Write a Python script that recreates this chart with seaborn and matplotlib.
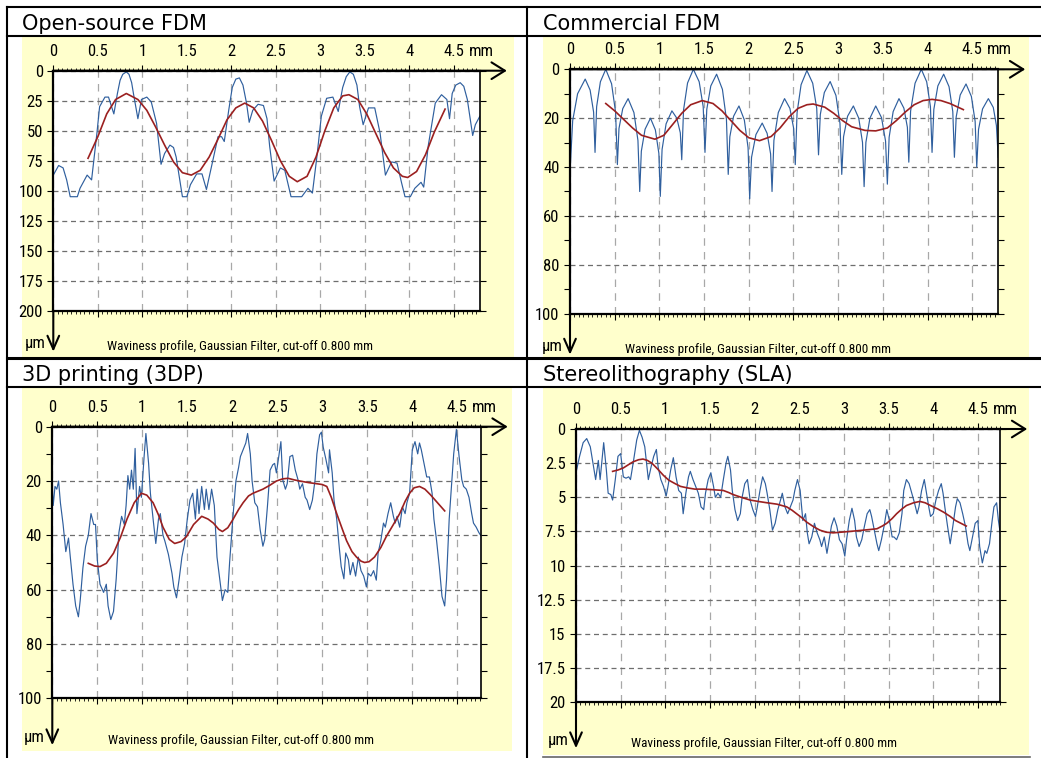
import pandas as pd
import seaborn as sns
import matplotlib.pyplot as plt
from matplotlib.patches import Rectangle
from matplotlib.lines import Line2D
from matplotlib.ticker import FixedLocator, MultipleLocator, FuncFormatter

plt.rcParams['font.family'] = ['Liberation Sans Narrow', 'Arial Narrow', 'Roboto Condensed',
                               'Archivo Narrow', 'Liberation Sans', 'DejaVu Sans']

# === Data (x in mm, depth in um) ===
titles = ["Open-source FDM", "Commercial FDM", "3D printing (3DP)", "Stereolithography (SLA)"]
caption = "Waviness profile, Gaussian Filter, cut-off 0.800 mm"
x_ticks = [0, 0.5, 1, 1.5, 2, 2.5, 3, 3.5, 4, 4.5]
y_ticks_os = [0, 25, 50, 75, 100, 125, 150, 175, 200]
y_ticks_com = [0, 20, 40, 60, 80, 100]
y_ticks_3dp = [0, 20, 40, 60, 80, 100]
y_ticks_sla = [0, 2.5, 5, 7.5, 10, 12.5, 15, 17.5, 20]

os_profile = [
    (0.00, 87), (0.06, 79), (0.11, 81), (0.15, 91), (0.19, 105), (0.27, 105), (0.30, 98),
    (0.38, 87), (0.43, 91), (0.49, 52), (0.52, 30), (0.58, 22), (0.62, 22), (0.68, 36),
    (0.72, 19), (0.75, 8), (0.78, 3), (0.82, 1), (0.85, 3), (0.88, 10), (0.90, 19),
    (0.95, 40), (0.99, 24), (1.05, 22), (1.10, 26), (1.16, 44), (1.21, 78), (1.25, 69),
    (1.31, 62), (1.35, 64), (1.38, 72), (1.45, 105), (1.50, 105), (1.54, 95), (1.61, 86),
    (1.67, 86), (1.72, 99), (1.80, 72), (1.85, 55), (1.89, 55), (1.92, 59), (1.97, 33),
    (2.01, 14), (2.05, 7), (2.09, 6), (2.13, 12), (2.17, 27), (2.20, 43), (2.24, 33),
    (2.30, 28), (2.36, 29), (2.40, 40), (2.43, 63), (2.48, 92), (2.55, 81), (2.60, 83),
    (2.67, 105), (2.79, 105), (2.86, 98), (2.91, 102), (2.96, 72), (3.01, 38), (3.07, 23),
    (3.14, 22), (3.20, 34), (3.25, 14), (3.29, 5), (3.33, 1), (3.37, 3), (3.41, 12),
    (3.44, 30), (3.48, 45), (3.54, 31), (3.61, 31), (3.67, 52), (3.73, 87), (3.80, 76),
    (3.86, 77), (3.91, 93), (3.95, 105), (4.01, 105), (4.06, 98), (4.13, 93), (4.16, 97),
    (4.21, 63), (4.29, 27), (4.36, 20), (4.42, 24), (4.45, 40), (4.48, 19), (4.52, 12),
    (4.57, 10), (4.61, 13), (4.65, 24), (4.71, 54), (4.74, 45), (4.79, 38),
]
os_wave = [
    (0.39, 73), (0.50, 55), (0.60, 36), (0.70, 24), (0.82, 19), (0.95, 24), (1.05, 33),
    (1.15, 47), (1.25, 62), (1.35, 76), (1.45, 85), (1.55, 87), (1.65, 83), (1.75, 72),
    (1.85, 57), (1.95, 41), (2.05, 31), (2.15, 27), (2.25, 31), (2.35, 42), (2.45, 58),
    (2.55, 75), (2.65, 88), (2.74, 92.5), (2.85, 88), (2.95, 72), (3.05, 50), (3.15, 31),
    (3.25, 21), (3.32, 20), (3.42, 24), (3.52, 36), (3.62, 52), (3.72, 68), (3.82, 81),
    (3.92, 88), (3.98, 89), (4.08, 84), (4.18, 70), (4.28, 51), (4.40, 32),
]

com_profile = [
    (0.00, 42), (0.03, 21), (0.085, 10), (0.17, 4), (0.225, 8.5), (0.264, 17.5), (0.28, 34),
    (0.298, 15.3), (0.34, 5.1), (0.40, 0), (0.465, 5.9), (0.51, 17.6), (0.53, 39),
    (0.548, 24.2), (0.59, 16.1), (0.65, 12), (0.715, 17.7), (0.76, 29.1), (0.78, 50),
    (0.798, 33.5), (0.84, 24.5), (0.90, 20), (0.955, 24.8), (0.994, 34.4), (1.01, 52),
    (1.03, 32.8), (1.075, 22.3), (1.14, 17), (1.195, 20), (1.234, 26), (1.25, 37),
    (1.27, 16.7), (1.315, 5.6), (1.38, 0), (1.445, 5.1), (1.49, 15.3), (1.51, 34),
    (1.53, 16.4), (1.575, 6.8), (1.64, 2), (1.705, 8.2), (1.75, 20.5), (1.77, 43),
    (1.788, 27.6), (1.83, 19.2), (1.89, 15), (1.95, 20.7), (1.992, 32.1), (2.01, 53),
    (2.031, 36), (2.08, 26.7), (2.15, 22), (2.205, 26.2), (2.244, 34.6), (2.26, 50),
    (2.281, 29.1), (2.33, 17.7), (2.40, 12), (2.46, 16), (2.502, 24.2), (2.52, 39),
    (2.54, 17.8), (2.585, 6.3), (2.65, 0.5), (2.715, 5.7), (2.76, 16), (2.78, 35),
    (2.80, 18.5), (2.845, 9.5), (2.91, 5), (2.975, 10.7), (3.02, 22.1), (3.04, 43),
    (3.06, 27.6), (3.105, 19.2), (3.17, 15), (3.23, 20), (3.272, 29.9), (3.29, 48),
    (3.31, 29.9), (3.355, 20), (3.42, 15), (3.485, 19.8), (3.53, 29.4), (3.55, 47),
    (3.57, 27.8), (3.615, 17.3), (3.68, 12), (3.735, 15.9), (3.774, 23.7), (3.79, 38),
    (3.81, 17.1), (3.86, 5.7), (3.93, 0), (3.99, 5.1), (4.032, 15.3), (4.05, 34),
    (4.07, 16.4), (4.115, 6.8), (4.18, 2), (4.24, 7.1), (4.282, 17.3), (4.30, 36),
    (4.32, 19.5), (4.365, 10.5), (4.43, 6), (4.49, 11.1), (4.532, 21.3), (4.55, 40),
    (4.57, 24.6), (4.615, 16.2), (4.68, 12), (4.735, 15.6), (4.77, 23), (4.79, 36),
]
com_wave = [
    (0.40, 14), (0.50, 17), (0.60, 20.5), (0.70, 24), (0.80, 27), (0.95, 28.6), (1.05, 27),
    (1.15, 22.5), (1.25, 18), (1.35, 14.5), (1.48, 12.8), (1.60, 14), (1.70, 17), (1.80, 21),
    (1.90, 25), (2.00, 28), (2.12, 29.2), (2.25, 27.5), (2.35, 24), (2.45, 19.5), (2.55, 16),
    (2.65, 14.5), (2.72, 14.2), (2.85, 15.5), (2.95, 18), (3.05, 21), (3.15, 23.5),
    (3.30, 25), (3.42, 25.2), (3.55, 24), (3.65, 21), (3.75, 17.5), (3.85, 14.5),
    (3.95, 12.8), (4.05, 12.3), (4.15, 12.8), (4.25, 14), (4.40, 16.5),
]

p3d_profile = [
    (0.00, 22), (0.01, 29), (0.03, 22), (0.05, 23), (0.07, 20), (0.09, 28), (0.12, 36),
    (0.15, 46), (0.18, 41), (0.20, 48), (0.23, 58), (0.26, 66), (0.29, 70), (0.31, 64),
    (0.34, 52), (0.37, 44), (0.40, 40), (0.43, 32), (0.46, 36), (0.48, 36), (0.50, 49),
    (0.53, 58), (0.57, 61), (0.60, 58), (0.62, 66), (0.65, 71), (0.68, 68), (0.71, 56),
    (0.74, 39), (0.77, 33), (0.80, 36), (0.82, 29), (0.84, 18), (0.86, 23), (0.88, 16),
    (0.90, 23), (0.92, 8), (0.94, 32), (0.97, 22), (0.99, 26), (1.02, 11), (1.04, 2.5),
    (1.07, 13.5), (1.09, 24.5), (1.12, 34), (1.15, 43), (1.18, 34), (1.20, 32), (1.23, 40),
    (1.25, 42), (1.29, 47), (1.33, 54), (1.35, 59), (1.38, 63), (1.41, 56), (1.44, 48),
    (1.47, 43), (1.50, 34), (1.53, 27), (1.56, 24.5), (1.59, 34), (1.61, 23), (1.63, 32),
    (1.66, 22), (1.69, 30.5), (1.71, 23), (1.74, 30.5), (1.77, 23), (1.80, 29), (1.83, 48),
    (1.86, 56), (1.89, 64), (1.92, 60), (1.95, 61), (1.97, 50), (2.01, 32), (2.04, 20),
    (2.07, 15), (2.09, 11), (2.12, 8.5), (2.15, 6), (2.17, 2.5), (2.20, 10), (2.22, 20),
    (2.25, 28), (2.28, 29.5), (2.31, 38), (2.34, 44), (2.36, 41.5), (2.39, 29.5), (2.42, 16),
    (2.45, 14), (2.47, 13.5), (2.49, 17), (2.52, 10), (2.54, 5.5), (2.56, 19.5), (2.59, 23),
    (2.61, 21), (2.64, 11), (2.67, 10.5), (2.70, 16), (2.73, 19.5), (2.75, 23), (2.78, 21),
    (2.81, 26), (2.83, 27), (2.86, 30.5), (2.89, 27), (2.92, 19.5), (2.94, 10), (2.97, 3),
    (2.99, 2), (3.01, 7.5), (3.04, 12), (3.07, 17), (3.08, 8.5), (3.11, 17), (3.13, 27),
    (3.16, 34), (3.19, 45), (3.21, 51.5), (3.24, 56), (3.26, 46.5), (3.29, 49), (3.31, 54.5),
    (3.34, 50), (3.37, 55), (3.40, 48), (3.43, 53), (3.46, 55), (3.49, 59), (3.51, 54),
    (3.54, 55), (3.57, 53), (3.60, 56.5), (3.62, 46.5), (3.65, 42), (3.68, 35.5), (3.70, 37),
    (3.73, 32), (3.76, 28), (3.79, 33), (3.81, 35.5), (3.83, 33), (3.86, 37), (3.89, 29.5),
    (3.92, 32), (3.94, 28), (3.97, 24.5), (4.00, 8.5), (4.03, 5.5), (4.06, 10), (4.08, 6),
    (4.10, 8.5), (4.13, 13.5), (4.16, 18.5), (4.19, 18.5), (4.22, 24.5), (4.24, 34),
    (4.27, 42), (4.30, 51.5), (4.33, 62.5), (4.36, 66), (4.38, 56.5), (4.41, 34),
    (4.44, 19.5), (4.46, 10), (4.49, 1), (4.52, 11), (4.55, 19.5), (4.57, 22), (4.60, 23),
    (4.63, 26), (4.66, 32), (4.68, 35.5), (4.71, 37), (4.74, 39), (4.76, 40),
]
p3d_wave = [
    (0.40, 50.3), (0.47, 51.3), (0.53, 51.5), (0.60, 50.3), (0.68, 46.6), (0.76, 40.5),
    (0.83, 34), (0.91, 28), (0.99, 24.5), (1.05, 25.2), (1.12, 28), (1.18, 32.5), (1.23, 37),
    (1.30, 41.5), (1.36, 43), (1.43, 42.3), (1.49, 40.5), (1.57, 36), (1.66, 33), (1.73, 34),
    (1.79, 35.5), (1.85, 37.8), (1.89, 38.6), (1.95, 37.2), (2.01, 34), (2.07, 30.5),
    (2.12, 28), (2.18, 25.5), (2.23, 24.5), (2.34, 23), (2.42, 21.5), (2.49, 20), (2.56, 19.2),
    (2.62, 19), (2.69, 19.6), (2.75, 20), (2.85, 20.6), (2.94, 21), (3.00, 21.3), (3.05, 22),
    (3.10, 26), (3.16, 32), (3.22, 37.5), (3.27, 42), (3.33, 46), (3.38, 48), (3.43, 49.5),
    (3.47, 50), (3.52, 49.7), (3.58, 48), (3.65, 44.5), (3.71, 40.5), (3.79, 36), (3.86, 32),
    (3.92, 27.5), (3.97, 24.5), (4.02, 22.5), (4.08, 22), (4.14, 23), (4.20, 25), (4.28, 28),
    (4.36, 31),
]

sla_profile = [
    (0.00, 3.2), (0.04, 2.0), (0.08, 1.0), (0.12, 0.7), (0.16, 1.3), (0.19, 2.5), (0.22, 3.7),
    (0.25, 2.3), (0.27, 3.7), (0.31, 1.0), (0.34, 3.0), (0.36, 4.7), (0.39, 4.8), (0.41, 5.2),
    (0.44, 3.7), (0.47, 2.0), (0.50, 1.8), (0.53, 3.5), (0.56, 3.6), (0.59, 3.5), (0.61, 3.7),
    (0.64, 2.5), (0.68, 0.8), (0.71, 0.1), (0.74, 0.6), (0.77, 1.3), (0.81, 3.7), (0.84, 2.8),
    (0.87, 2.0), (0.90, 1.5), (0.92, 2.8), (0.95, 3.7), (0.98, 4.2), (1.01, 4.9), (1.03, 4.2),
    (1.06, 3.0), (1.09, 2.1), (1.12, 3.5), (1.15, 4.5), (1.18, 4.7), (1.20, 6.2), (1.23, 4.7),
    (1.26, 3.5), (1.28, 3.1), (1.31, 3.7), (1.34, 4.2), (1.37, 4.7), (1.40, 5.7), (1.43, 5.9),
    (1.45, 4.7), (1.48, 3.7), (1.51, 3.2), (1.54, 4.2), (1.56, 5.0), (1.59, 4.7), (1.62, 5.0),
    (1.65, 3.7), (1.68, 2.5), (1.70, 2.0), (1.73, 3.0), (1.75, 4.5), (1.78, 5.9), (1.81, 6.7),
    (1.84, 6.2), (1.86, 5.0), (1.89, 4.0), (1.92, 3.7), (1.95, 5.2), (1.98, 5.9), (2.01, 6.4),
    (2.03, 5.7), (2.06, 4.5), (2.09, 3.5), (2.12, 4.0), (2.14, 4.7), (2.17, 5.9), (2.20, 7.4),
    (2.23, 6.9), (2.26, 5.9), (2.29, 5.2), (2.31, 4.7), (2.34, 5.7), (2.37, 6.2), (2.40, 5.7),
    (2.43, 5.2), (2.45, 4.5), (2.48, 3.7), (2.51, 4.5), (2.54, 6.7), (2.57, 6.2), (2.59, 7.6),
    (2.61, 8.4), (2.64, 7.9), (2.67, 6.9), (2.70, 7.6), (2.73, 8.1), (2.75, 8.6), (2.78, 7.9),
    (2.81, 9.1), (2.84, 7.9), (2.86, 7.1), (2.89, 6.5), (2.92, 7.1), (2.95, 8.1), (2.98, 8.4),
    (3.01, 9.3), (3.03, 8.1), (3.06, 6.7), (3.09, 5.8), (3.12, 6.7), (3.14, 7.9), (3.17, 8.6),
    (3.20, 8.1), (3.23, 7.1), (3.26, 6.2), (3.29, 5.9), (3.31, 6.4), (3.34, 7.4), (3.37, 8.4),
    (3.39, 8.9), (3.42, 8.1), (3.45, 7.1), (3.48, 5.9), (3.51, 6.7), (3.54, 7.9), (3.56, 7.9),
    (3.59, 8.1), (3.62, 7.6), (3.65, 6.2), (3.67, 4.5), (3.70, 3.7), (3.73, 4.0), (3.76, 4.7),
    (3.79, 5.4), (3.82, 6.2), (3.84, 5.7), (3.87, 4.5), (3.90, 3.7), (3.92, 4.5), (3.95, 5.7),
    (3.97, 6.4), (4.00, 6.2), (4.03, 5.2), (4.06, 4.5), (4.09, 4.0), (4.11, 4.7), (4.13, 5.7),
    (4.16, 7.1), (4.19, 8.4), (4.22, 7.1), (4.25, 5.7), (4.27, 5.1), (4.30, 5.4), (4.33, 6.2),
    (4.36, 7.1), (4.39, 8.4), (4.41, 8.9), (4.44, 7.9), (4.47, 6.9), (4.50, 6.7), (4.52, 8.6),
    (4.55, 9.8), (4.58, 8.9), (4.60, 9.1), (4.63, 8.4), (4.66, 6.7), (4.68, 5.7), (4.71, 5.4),
    (4.73, 6.7), (4.75, 7.6),
]
sla_wave = [
    (0.41, 3.1), (0.47, 3.0), (0.53, 2.85), (0.59, 2.6), (0.64, 2.4), (0.70, 2.25), (0.75, 2.2),
    (0.80, 2.3), (0.85, 2.5), (0.91, 2.9), (0.98, 3.4), (1.04, 3.75), (1.11, 4.0), (1.17, 4.2),
    (1.24, 4.3), (1.33, 4.4), (1.43, 4.4), (1.55, 4.45), (1.65, 4.5), (1.71, 4.65), (1.76, 4.8),
    (1.85, 5.0), (1.95, 5.2), (2.04, 5.3), (2.14, 5.4), (2.25, 5.5), (2.36, 5.7), (2.42, 5.95),
    (2.47, 6.2), (2.53, 6.5), (2.58, 6.8), (2.66, 7.15), (2.73, 7.4), (2.80, 7.55), (2.88, 7.6),
    (2.97, 7.55), (3.06, 7.5), (3.14, 7.45), (3.22, 7.4), (3.30, 7.35), (3.37, 7.3),
    (3.43, 7.1), (3.48, 6.9), (3.54, 6.55), (3.59, 6.2), (3.65, 5.85), (3.70, 5.6),
    (3.78, 5.4), (3.85, 5.3), (3.91, 5.4), (3.97, 5.6), (4.05, 5.85), (4.12, 6.1),
    (4.19, 6.4), (4.25, 6.7), (4.31, 6.9), (4.37, 7.1),
]

# === Layout (pixels of the 1041x758 page) ===
W, H = 1041, 758
YELLOW = "#ffffcc"
BLUE = "#2f5f9e"
RED = "#9b2020"

fig = plt.figure(figsize=(W / 100, H / 100), dpi=100)


def fig_line(xs, ys, lw=1.5, color="black"):
    fig.add_artist(Line2D([x / W for x in xs], [1 - y / H for y in ys], color=color, lw=lw))


# table grid
fig_line([7, W], [7, 7])
fig_line([7, W], [36, 36])
fig_line([7, W], [358, 358], lw=2.2)
fig_line([7, W], [387, 387])
fig_line([7, 7], [7, H])
fig_line([527, 527], [7, H])
fig_line([543, 1030], [757, 757], lw=1.2, color="#666666")

panels = [
    # title pos, yellow box, axes box (l, t, r, b), xmax, arrow length below
    dict(title=(22, 30), bg=(22, 37, 514, 357), ax=(53.3, 70.7, 479.8, 310.7), xmax=4.79, drop=41,
         profile=os_profile, wave=os_wave, yt=y_ticks_os, ymin=None),
    dict(title=(543, 30), bg=(543, 37, 1029, 357), ax=(570, 69.3, 998.2, 313.7), xmax=4.79, drop=41,
         profile=com_profile, wave=com_wave, yt=y_ticks_com, ymin=10),
    dict(title=(22, 381), bg=(22, 388, 512, 751), ax=(52.3, 426.7, 480.7, 698.3), xmax=4.76, drop=47,
         profile=p3d_profile, wave=p3d_wave, yt=y_ticks_3dp, ymin=10),
    dict(title=(543, 381), bg=(543, 388, 1029, 755), ax=(576, 429, 1000.2, 702.3), xmax=4.75, drop=46,
         profile=sla_profile, wave=sla_wave, yt=y_ticks_sla, ymin=2.5),
]

for title, p in zip(titles, panels):
    fig.text(p["title"][0] / W, 1 - p["title"][1] / H, title, family="DejaVu Sans",
             fontsize=15, va="baseline", ha="left")
    x0, y0, x1, y1 = p["bg"]
    fig.add_artist(Rectangle((x0 / W, 1 - y1 / H), (x1 - x0) / W, (y1 - y0) / H,
                             transform=fig.transFigure, facecolor=YELLOW, edgecolor="none", zorder=-5))

    l, t, r, b = p["ax"]
    ax = fig.add_axes([l / W, 1 - b / H, (r - l) / W, (b - t) / H])
    ax.set_facecolor("white")

    prof = pd.DataFrame(p["profile"], columns=["x", "y"])
    wav = pd.DataFrame(p["wave"], columns=["x", "y"])
    sns.lineplot(data=prof, x="x", y="y", ax=ax, color=BLUE, lw=0.85, sort=False, estimator=None)
    sns.lineplot(data=wav, x="x", y="y", ax=ax, color=RED, lw=1.2, sort=False, estimator=None)

    ax.set_xlim(0, p["xmax"])
    ax.set_ylim(p["yt"][-1], 0)
    ax.set(xlabel="", ylabel="")

    # ticks: labels on top, marks on all four sides
    ax.xaxis.set_major_locator(FixedLocator(x_ticks))
    ax.xaxis.set_minor_locator(MultipleLocator(0.05))
    ax.xaxis.set_major_formatter(FuncFormatter(lambda v, pos: f"{v:g}"))
    ax.yaxis.set_major_locator(FixedLocator(p["yt"]))
    if p["ymin"]:
        ax.yaxis.set_minor_locator(MultipleLocator(p["ymin"]))
    ax.yaxis.set_major_formatter(FuncFormatter(lambda v, pos: f"{v:g}"))
    ax.tick_params(axis="x", which="both", top=True, bottom=True, labeltop=True,
                   labelbottom=False, direction="out")
    ax.tick_params(axis="x", which="major", length=4.5, width=0.8, pad=4, labelsize=12)
    ax.tick_params(axis="x", which="minor", length=2.5, width=0.6)
    ax.tick_params(axis="y", which="both", left=True, right=True, direction="out",
                   length=4.5, width=0.8)
    ax.tick_params(axis="y", which="major", pad=3, labelsize=12)

    ax.set_axisbelow(True)
    ax.grid(axis="x", which="major", color="#a8a8a8", ls=(0, (6, 5)), lw=0.9)
    ax.grid(axis="y", which="major", color="#6e6e6e", ls=(0, (4, 3)), lw=0.9)

    for side in ["left", "top", "bottom"]:
        ax.spines[side].set_linewidth(1.6)
    ax.spines["right"].set_linewidth(1.2)
    for s in ax.spines.values():
        s.set_color("black")

    # axis arrows
    w_px, h_px = r - l, b - t
    ax.annotate("", xy=(1 + 27 / w_px, 1), xytext=(0, 1), xycoords="axes fraction",
                arrowprops=dict(arrowstyle="->,head_length=0.8,head_width=0.5", lw=1.5,
                                color="black", shrinkA=0, shrinkB=0, mutation_scale=12),
                annotation_clip=False)
    ax.annotate("", xy=(0, -p["drop"] / h_px), xytext=(0, 0), xycoords="axes fraction",
                arrowprops=dict(arrowstyle="->,head_length=0.8,head_width=0.35", lw=1.5,
                                color="black", shrinkA=0, shrinkB=0, mutation_scale=12),
                annotation_clip=False)

    ax.annotate("mm", xy=(4.5, 1), xycoords=("data", "axes fraction"), xytext=(10.5, 8.5),
                textcoords="offset points", ha="left", va="bottom", fontsize=12)
    fig.text((l - 18) / W, 1 - (b + p["drop"] - 8) / H, "µm", ha="center", va="center", fontsize=12)
    ax.text(2.1, -(p["drop"] - 5) / h_px, caption, transform=ax.get_xaxis_transform(),
            ha="center", va="center", fontsize=9.5)

fig.savefig("out.png", dpi=100)
